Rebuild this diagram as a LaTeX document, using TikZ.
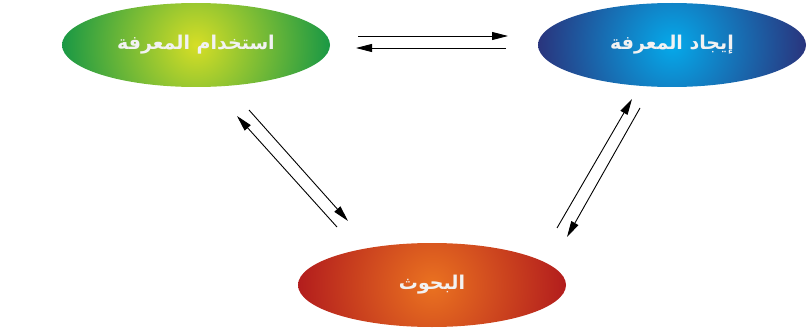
\documentclass[tikz,border=0pt]{standalone}
\usepackage{fontspec}
\newfontfamily\arabicfont[Script=Arabic]{DejaVu Sans}
\TeXXeTstate=1
\usetikzlibrary{shapes.geometric,arrows.meta}
\definecolor{gin}{HTML}{D6DE26}
\definecolor{gout}{HTML}{119546}
\definecolor{bin}{HTML}{05A9EA}
\definecolor{bout}{HTML}{2B2F78}
\definecolor{rin}{HTML}{EA7220}
\definecolor{rout}{HTML}{B0191D}
\definecolor{txt}{HTML}{F2F2F2}
\begin{document}
\begin{tikzpicture}[x=1pt,y=-1pt,
  blob/.style={ellipse, minimum width=268pt, minimum height=84pt, inner sep=0pt,
    text=txt, font=\arabicfont\bfseries\fontsize{19}{22}\selectfont},
  shadeblob/.style 2 args={blob, path picture={\shade[inner color=#1, outer color=#2]
      (path picture bounding box.center) circle (140pt);}},
  link/.style={line width=0.9pt, -{Triangle[length=16pt,width=8pt]}},
]
\useasboundingbox (0,0) rectangle (809,329);
\node[shadeblob={gin}{gout}] (use) at (196,45) {\beginR استخدام المعرفة\endR};
\node[shadeblob={bin}{bout}] (find) at (672,45) {\beginR إيجاد المعرفة\endR};
\node[shadeblob={rin}{rout}] (res) at (432,285) {\beginR البحوث\endR};

\coordinate (h1a) at (358,36);  \coordinate (h1b) at (508,36);
\coordinate (h2a) at (506,48);  \coordinate (h2b) at (356,48);
\coordinate (l1a) at (337,227); \coordinate (l1b) at (237,116);
\coordinate (l2a) at (249,110); \coordinate (l2b) at (348,221);
\coordinate (r1a) at (557,228); \coordinate (r1b) at (632,99);
\coordinate (r2a) at (640,108); \coordinate (r2b) at (567,237);

\draw[link] (h1a) -- (h1b);
\draw[link] (h2a) -- (h2b);
\draw[link] (l1a) -- (l1b);
\draw[link] (l2a) -- (l2b);
\draw[link] (r1a) -- (r1b);
\draw[link] (r2a) -- (r2b);
\end{tikzpicture}
\end{document}
